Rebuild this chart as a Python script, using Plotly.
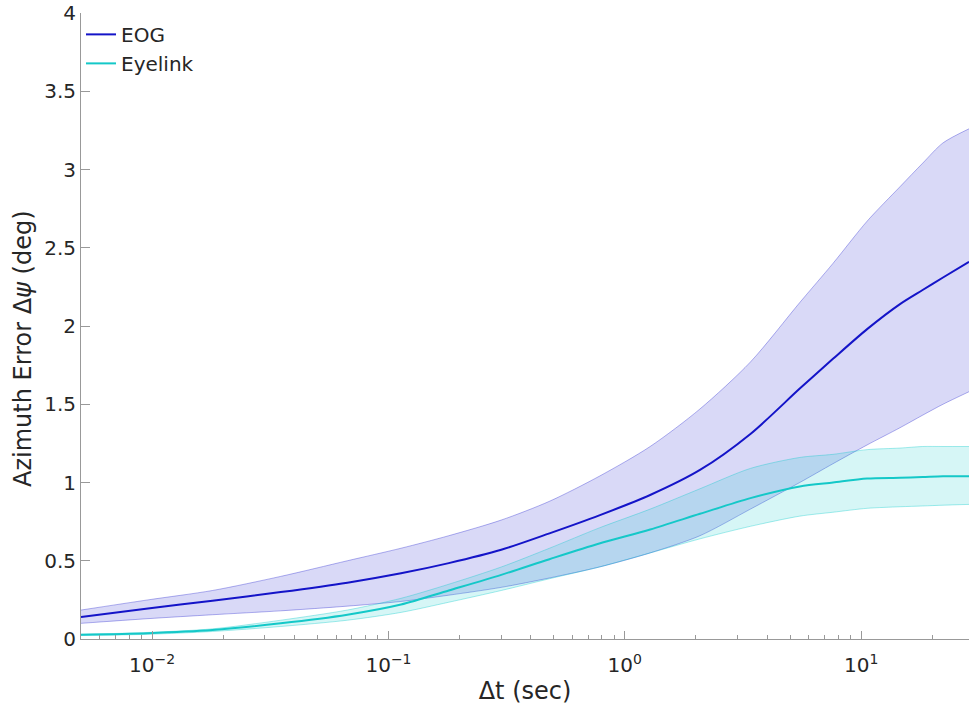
import plotly.graph_objects as go
import numpy as np

# time lags (sec)
t = [0.005, 0.0096, 0.018, 0.035, 0.067, 0.113, 0.18, 0.30, 0.48, 0.78,
     1.28, 2.08, 3.4, 5.5, 7.6, 10.6, 14.6, 18.2, 22.2, 28.6]

eog_mean = [0.14, 0.195, 0.245, 0.30, 0.36, 0.42, 0.485, 0.57, 0.675, 0.79,
            0.92, 1.08, 1.31, 1.60, 1.79, 1.98, 2.14, 2.23, 2.31, 2.41]
eog_upper = [0.185, 0.25, 0.31, 0.40, 0.50, 0.58, 0.66, 0.76, 0.88, 1.04,
             1.23, 1.47, 1.77, 2.15, 2.40, 2.67, 2.89, 3.04, 3.17, 3.26]
eog_lower = [0.10, 0.13, 0.155, 0.18, 0.21, 0.24, 0.28, 0.33, 0.39, 0.46,
             0.55, 0.66, 0.83, 1.00, 1.12, 1.24, 1.35, 1.43, 1.50, 1.58]

eye_mean = [0.027, 0.037, 0.057, 0.10, 0.155, 0.22, 0.31, 0.41, 0.51, 0.61,
            0.70, 0.80, 0.90, 0.975, 1.00, 1.025, 1.03, 1.035, 1.04, 1.04]
eye_upper = [0.03, 0.042, 0.065, 0.12, 0.185, 0.26, 0.35, 0.46, 0.58, 0.71,
             0.83, 0.96, 1.09, 1.16, 1.18, 1.21, 1.22, 1.23, 1.23, 1.23]
eye_lower = [0.022, 0.03, 0.048, 0.08, 0.12, 0.17, 0.235, 0.31, 0.385, 0.46,
             0.55, 0.64, 0.72, 0.785, 0.81, 0.835, 0.845, 0.85, 0.855, 0.86]

x_tickvals = [0.01, 0.1, 1, 10]
x_ticktext = ["10<sup>−2</sup>", "10<sup>−1</sup>", "10<sup>0</sup>", "10<sup>1</sup>"]

series = [
    ("EOG", eog_mean, eog_upper, eog_lower, "#1414c8", "rgba(0,0,200,0.15)", "rgba(0,0,200,0.3)"),
    ("Eyelink", eye_mean, eye_upper, eye_lower, "#14c8c8", "rgba(0,200,200,0.16)", "rgba(0,200,200,0.35)"),
]

fig = go.Figure()
for name, m, up, lo, lc, fc, ec in series:
    fig.add_trace(go.Scatter(
        x=t, y=lo, mode="lines", line=dict(color=ec, width=1, shape="spline", smoothing=0.8),
        showlegend=False, hoverinfo="skip"))
    fig.add_trace(go.Scatter(
        x=t, y=up, mode="lines", fill="tonexty", fillcolor=fc,
        line=dict(color=ec, width=1, shape="spline", smoothing=0.8),
        showlegend=False, hoverinfo="skip"))
for name, m, up, lo, lc, fc, ec in series:
    fig.add_trace(go.Scatter(x=t, y=m, mode="lines", name=name,
                             line=dict(color=lc, width=2, shape="spline", smoothing=0.8)))

axis_common = dict(
    showline=True, linecolor="#999999", linewidth=1,
    ticks="inside", tickcolor="#999999", showgrid=False, zeroline=False,
    tickfont=dict(size=20, color="#262626"), mirror=False,
)

fig.update_xaxes(
    type="log", range=[np.log10(0.005), np.log10(28.6)],
    tickvals=x_tickvals, ticktext=x_ticktext, ticklen=8, ticklabelstandoff=8,
    minor=dict(ticks="inside", ticklen=4, tickcolor="#999999", dtick="D1"),
    title=dict(text="Δt (sec)", font=dict(size=24, color="#262626"), standoff=6),
    **axis_common)
fig.update_yaxes(
    range=[0, 4], dtick=0.5, ticklen=9,
    **axis_common)

fig.add_annotation(
    text="Azimuth Error Δ<i>ψ</i> (deg)", textangle=-90,
    xref="paper", yref="paper", x=-81/888 + 23/888, y=(639-349)/626,
    xanchor="center", yanchor="middle", showarrow=False,
    font=dict(size=24, color="#262626"))

fig.update_layout(
    width=969, height=714,
    margin=dict(l=81, r=0, t=13, b=75),
    paper_bgcolor="white", plot_bgcolor="white",
    font=dict(family="DejaVu Sans", size=20, color="#262626"),
    legend=dict(x=0.0, y=0.997, xanchor="left", yanchor="top", traceorder="normal",
                bgcolor="rgba(255,255,255,0)", font=dict(size=20),
                itemwidth=30, tracegroupgap=0),
)

fig.write_html("out.html")
